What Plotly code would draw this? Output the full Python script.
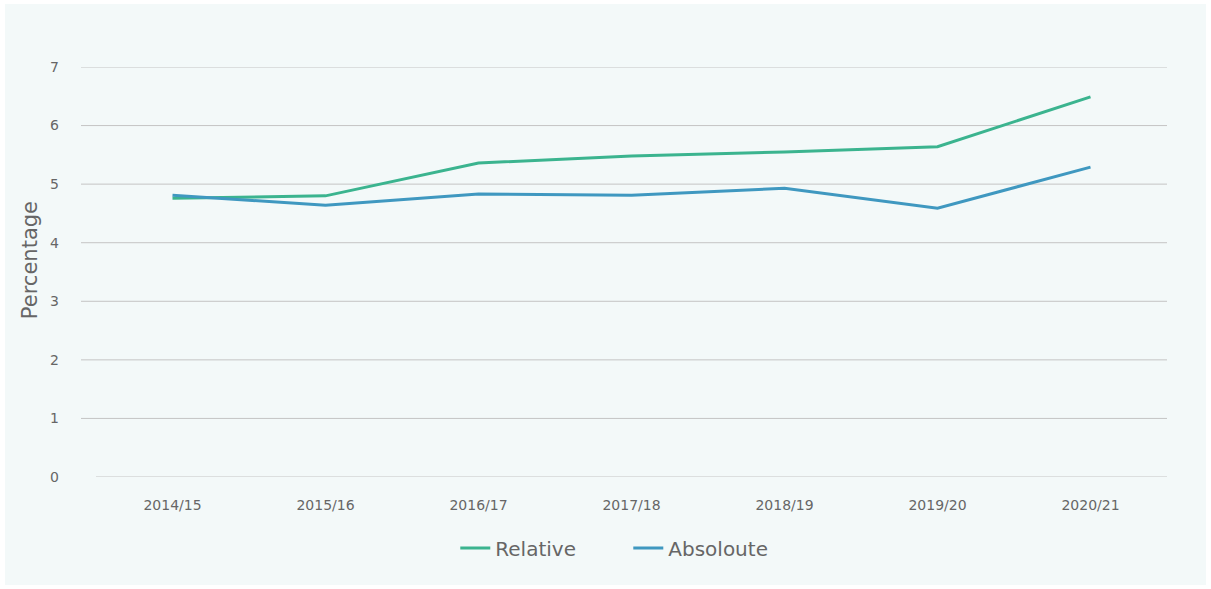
import plotly.graph_objects as go

years = ["2014/15", "2015/16", "2016/17", "2017/18", "2018/19", "2019/20", "2020/21"]
relative = [4.76, 4.80, 5.36, 5.48, 5.55, 5.64, 6.49]
absolute = [4.81, 4.64, 4.83, 4.81, 4.93, 4.59, 5.29]
y_ticks = [0, 1, 2, 3, 4, 5, 6, 7]

GREEN = "#3bb48f"
BLUE = "#3f98c0"
TEXT = "#666666"
FONT = "DejaVu Sans"

fig = go.Figure()
fig.add_trace(go.Scatter(x=years, y=relative, name="Relative", mode="lines",
                         line=dict(color=GREEN, width=3)))
fig.add_trace(go.Scatter(x=years, y=absolute, name="Absoloute", mode="lines",
                         line=dict(color=BLUE, width=3)))

shapes = [dict(type="rect", xref="paper", yref="paper", x0=-0.085, x1=1.0364,
               y0=-0.2634, y1=1.1537, fillcolor="#f3f9f9", line=dict(width=0),
               layer="below")]
for v in y_ticks:
    shapes.append(dict(type="line", xref="paper", yref="y",
                       x0=(0 if v == 0 else -0.014), x1=1, y0=v, y1=v,
                       line=dict(color="#c4c4c4", width=1), layer="below"))

fig.update_layout(
    width=1211, height=589,
    margin=dict(l=96, r=44, t=67, b=112),
    paper_bgcolor="white",
    plot_bgcolor="rgba(0,0,0,0)",
    font=dict(family=FONT, color=TEXT, size=13),
    shapes=shapes,
    showlegend=True,
    legend=dict(orientation="h", x=0.497, xanchor="center", y=-0.173,
                yanchor="middle", font=dict(size=20, color=TEXT),
                bgcolor="rgba(0,0,0,0)", entrywidth=128, entrywidthmode="pixels"),
    xaxis=dict(type="category", range=[-0.5, 6.5], showgrid=False,
               zeroline=False, showline=False, ticks="",
               tickfont=dict(size=14, color=TEXT), ticklabelstandoff=18),
    yaxis=dict(range=[0, 7], tickvals=y_ticks, showgrid=False, zeroline=False,
               showline=False, ticks="", tickfont=dict(size=14, color=TEXT),
               ticklabelstandoff=36),
    annotations=[dict(text="Percentage", xref="paper", yref="paper",
                      x=-0.0616, y=0.529, textangle=-90, showarrow=False,
                      xanchor="center", yanchor="middle",
                      font=dict(size=21, color=TEXT))],
)

fig.write_html("out.html", config={"displayModeBar": False},
               post_script="document.body.style.margin='0';")
